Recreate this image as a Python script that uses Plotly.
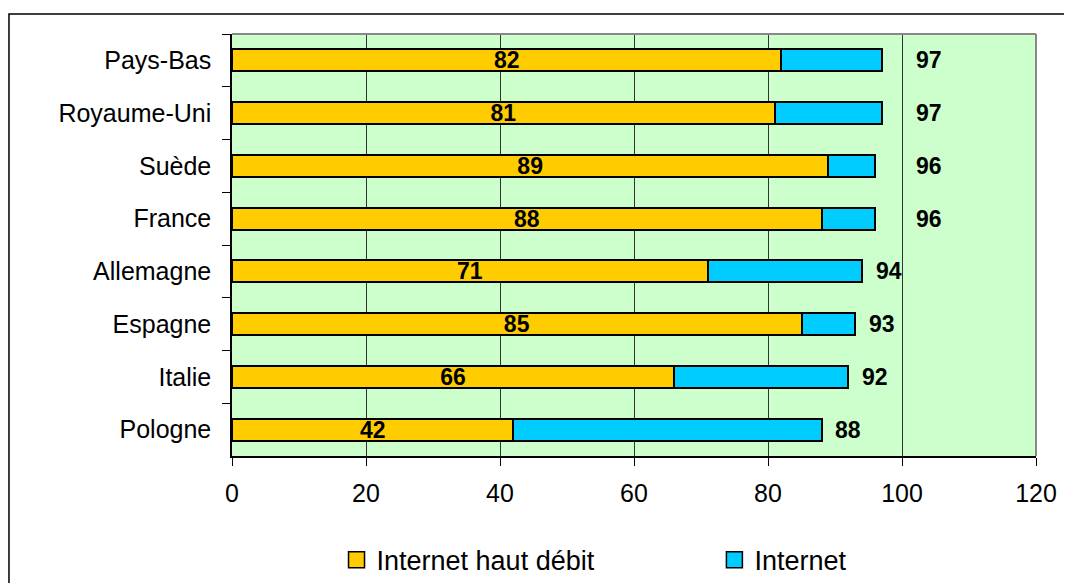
import numpy as np
import plotly.graph_objects as go

# data
pays = ['Pays-Bas', 'Royaume-Uni', 'Suède', 'France',
        'Allemagne', 'Espagne', 'Italie', 'Pologne']
haut_debit = np.array([82, 81, 89, 88, 71, 85, 66, 42])
internet = np.array([97, 97, 96, 96, 94, 93, 92, 88])

ORANGE = '#FFCC00'
BLUE = '#00CCFF'
FONT = 'Liberation Sans, Arial, sans-serif'

fig = go.Figure()

fig.add_trace(go.Bar(
    y=pays, x=haut_debit, orientation='h', name='Internet haut débit',
    marker=dict(color=ORANGE, line=dict(color='black', width=2)),
    text=haut_debit, textposition='inside', insidetextanchor='middle',
    textangle=0, constraintext='none', showlegend=False,
    textfont=dict(family=FONT, size=23, color='black', weight='bold'),
))

fig.add_trace(go.Bar(
    y=pays, x=internet - haut_debit, orientation='h', name='Internet',
    marker=dict(color=BLUE, line=dict(color='black', width=2)),
    textposition='none', showlegend=False,
))

# legend entries (bigger squares than the bar legend symbol)
for name, col, leg in [('Internet haut débit', ORANGE, 'legend'), ('Internet', BLUE, 'legend2')]:
    fig.add_trace(go.Scatter(x=[None], y=[None], mode='markers', name=name, legend=leg,
                             marker=dict(symbol='square', size=16, color=col,
                                         line=dict(color='black', width=1.5))))

# total labels: pushed past the 100 line when they would touch it
label_x = np.where(internet >= 96, 104, internet + 4)
for p, v, lx in zip(pays, internet, label_x):
    fig.add_annotation(x=lx, y=p, text=str(v), showarrow=False,
                       font=dict(family=FONT, size=23, color='black', weight='bold'))

leg_style = dict(orientation='h', yanchor='middle', y=-0.247, xanchor='left',
                 font=dict(size=27), bgcolor='rgba(0,0,0,0)')
fig.update_layout(
    width=1072, height=583,
    margin=dict(l=224, r=44, t=26, b=135, autoexpand=False),
    barmode='stack', bargap=0.58,
    paper_bgcolor='white', plot_bgcolor='#CCFFCC',
    font=dict(family=FONT, size=24, color='black'),
    showlegend=True,
    legend=dict(x=0.13, **leg_style),
    legend2=dict(x=0.60, **leg_style),
)

fig.update_xaxes(range=[0, 120], dtick=20, showgrid=True, gridcolor='#333333', gridwidth=1,
                 zeroline=False, showline=True, linecolor='black', linewidth=1.5,
                 ticks='outside', ticklen=8, tickcolor='black', ticklabelstandoff=6,
                 tickfont=dict(size=25))
fig.update_yaxes(autorange='reversed', tickson='boundaries', showgrid=False,
                 showline=True, linecolor='black', linewidth=1.5,
                 ticks='outside', ticklen=8, tickcolor='black', ticklabelstandoff=14,
                 tickfont=dict(size=25))

# gray frame on top and right of the plot area
fig.add_shape(type='line', xref='paper', yref='paper', x0=0, x1=1, y0=1, y1=1,
              line=dict(color='#888888', width=2))
fig.add_shape(type='line', xref='paper', yref='paper', x0=1, x1=1, y0=0, y1=1,
              line=dict(color='#888888', width=2))
# outer chart border (partly outside the window)
fig.add_shape(type='rect', xref='paper', yref='paper',
              x0=-0.2774, x1=1.1, y0=-0.4, y1=1.0474,
              line=dict(color='black', width=1.5), fillcolor='rgba(0,0,0,0)')

fig.write_html('out.html')
